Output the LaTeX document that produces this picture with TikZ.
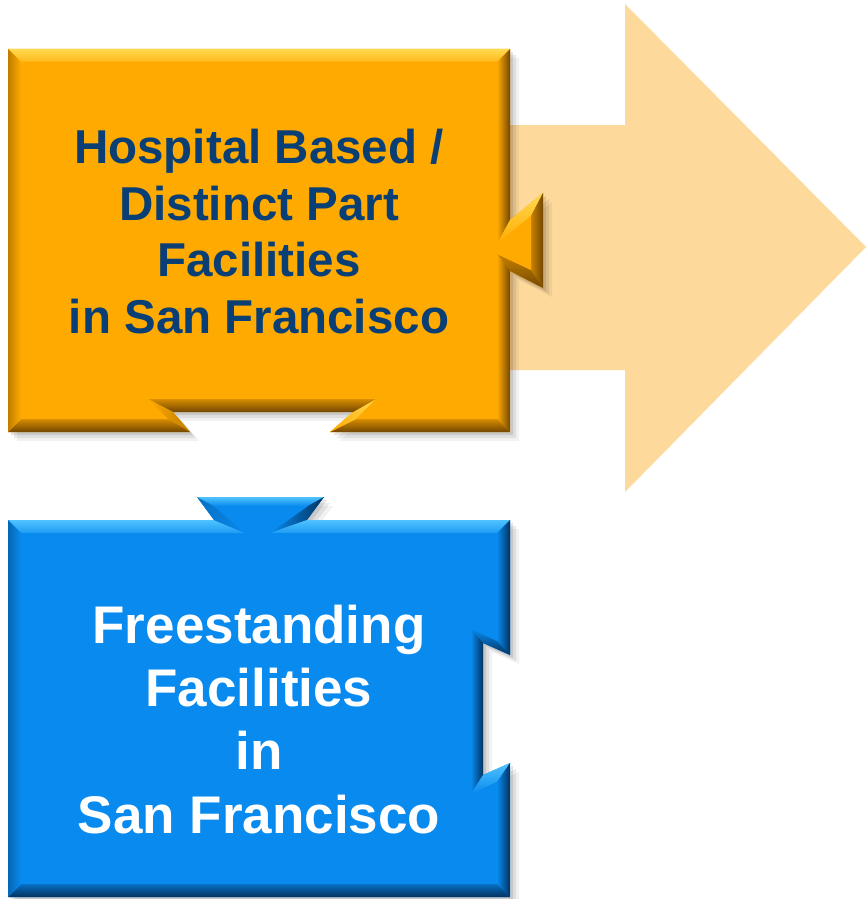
\documentclass[tikz,border=0pt]{standalone}
\usepackage{fontspec}
\setmainfont{Liberation Sans}
\definecolor{orMain}{RGB}{255,170,0}
\definecolor{orLight}{RGB}{255,218,80}
\definecolor{orDark}{RGB}{115,70,0}
\definecolor{arrowFill}{RGB}{253,217,155}
\definecolor{blMain}{RGB}{8,138,238}
\definecolor{blLight}{RGB}{80,195,255}
\definecolor{blDark}{RGB}{3,50,95}
\definecolor{navy}{RGB}{10,63,117}
\tikzset{
  orshape/.style={insert path={(8,49) -- (510,49) -- (510,220) -- (543,193) -- (543,288) -- (510,271) -- (510,432) -- (330,432) -- (353,412) -- (173,412) -- (190,432) -- (8,432) -- cycle}},
  blshape/.style={insert path={(8,520) -- (214,520) -- (197,497) -- (324,497) -- (307,520) -- (510,520) -- (510,655) -- (483,643) -- (483,775) -- (510,763) -- (510,897) -- (8,897) -- cycle}},
  shadowA/.style={fill=black,opacity=0.10,shift={(3,3)}},
  shadowB/.style={fill=black,opacity=0.08,shift={(6,6)}},
  shadowC/.style={fill=black,opacity=0.05,shift={(9,9)}},
  otext/.style={anchor=base,inner sep=0pt,text=navy,font=\bfseries\fontsize{47.5}{57}\selectfont},
  btext/.style={anchor=base,inner sep=0pt,text=white,font=\bfseries\fontsize{53}{63}\selectfont},
}
\begin{document}
\begin{tikzpicture}[x=1pt,y=-1pt]
\useasboundingbox (0,0) rectangle (866,899);
\fill[white] (0,0) rectangle (866,899);
% big light arrow behind
\fill[arrowFill] (500,125) -- (625,125) -- (625,4) -- (866,247) -- (625,492) -- (625,370) -- (500,370) -- cycle;

% ---------- orange box ----------
\fill[shadowC, orshape];
\fill[shadowB, orshape];
\fill[shadowA, orshape];
\fill[orMain, orshape];
% bevel strips
\shade[top color=orLight, bottom color=orMain!70!orLight] (8,49) -- (510,49) -- (497,62) -- (21,62) -- cycle;
\shade[left color=orMain, right color=orDark] (510,49) -- (510,220) -- (497,244) -- (497,62) -- cycle;
\shade[top color=orLight, bottom color=orMain] (510,220) -- (543,193) -- (531,216) -- (497,244) -- cycle;
\shade[left color=orMain!60!orDark, right color=orDark] (543,193) -- (543,288) -- (531,270) -- (531,216) -- cycle;
\shade[top color=orMain!60!orDark, bottom color=orDark] (543,288) -- (510,271) -- (497,254) -- (531,270) -- cycle;
\shade[left color=orMain, right color=orDark] (510,271) -- (510,432) -- (497,419) -- (497,254) -- cycle;
\shade[top color=orMain!70!orDark, bottom color=orDark] (510,432) -- (330,432) -- (356,419) -- (497,419) -- cycle;
\shade[left color=orMain, right color=orLight] (330,432) -- (353,412) -- (376,399) -- (356,419) -- cycle;
\shade[top color=orMain!70!orDark, bottom color=orDark] (353,412) -- (173,412) -- (148,399) -- (376,399) -- cycle;
\shade[left color=orMain, right color=orMain!55!orDark] (173,412) -- (190,432) -- (168,419) -- (148,399) -- cycle;
\shade[top color=orMain!70!orDark, bottom color=orDark] (190,432) -- (8,432) -- (21,419) -- (168,419) -- cycle;
\shade[left color=orMain!55!orDark, right color=orMain] (8,432) -- (8,49) -- (21,62) -- (21,419) -- cycle;
% inner face
\fill[orMain] (21,62) -- (497,62) -- (497,244) -- (531,216) -- (531,270) -- (497,254) -- (497,419) -- (356,419) -- (376,399) -- (148,399) -- (168,419) -- (21,419) -- cycle;

% ---------- blue box ----------
\fill[shadowC, blshape];
\fill[shadowB, blshape];
\fill[shadowA, blshape];
\fill[blMain, blshape];
\shade[top color=blLight, bottom color=blMain!70!blLight] (8,520) -- (214,520) -- (245,533) -- (21,533) -- cycle;
\shade[left color=blMain!70!blDark, right color=blMain] (214,520) -- (197,497) -- (214,506) -- (245,533) -- cycle;
\shade[top color=blLight, bottom color=blMain] (197,497) -- (324,497) -- (308,506) -- (214,506) -- cycle;
\shade[left color=blMain, right color=blDark] (324,497) -- (307,520) -- (270,533) -- (308,506) -- cycle;
\shade[top color=blLight, bottom color=blMain!70!blLight] (307,520) -- (510,520) -- (497,533) -- (270,533) -- cycle;
\shade[left color=blMain, right color=blDark] (510,520) -- (510,655) -- (497,641) -- (497,533) -- cycle;
\shade[top color=blMain, bottom color=blDark] (510,655) -- (483,643) -- (471,629) -- (497,641) -- cycle;
\shade[left color=blMain, right color=blDark] (483,643) -- (483,775) -- (471,794) -- (471,629) -- cycle;
\shade[top color=blLight, bottom color=blMain] (483,775) -- (510,763) -- (497,782) -- (471,794) -- cycle;
\shade[left color=blMain, right color=blDark] (510,763) -- (510,897) -- (497,884) -- (497,782) -- cycle;
\shade[top color=blMain!70!blDark, bottom color=blDark] (510,897) -- (8,897) -- (21,884) -- (497,884) -- cycle;
\shade[left color=blMain!60!blDark, right color=blMain] (8,897) -- (8,520) -- (21,533) -- (21,884) -- cycle;
\fill[blMain] (21,533) -- (245,533) -- (214,506) -- (308,506) -- (270,533) -- (497,533) -- (497,641) -- (471,629) -- (471,794) -- (497,782) -- (497,884) -- (21,884) -- cycle;

% ---------- texts ----------
\node[otext] (o1) at (259,163) {Hospital Based /};
\node[otext] (o2) at (259,220) {Distinct Part};
\node[otext] (o3) at (259,276.5) {Facilities};
\node[otext] (o4) at (259,333) {in San Francisco};

\node[btext] (b1) at (259,643) {Freestanding};
\node[btext] (b2) at (259,706) {Facilities};
\node[btext] (b3) at (259,769) {in};
\node[btext] (b4) at (259,833) {San Francisco};
\end{tikzpicture}
\end{document}
